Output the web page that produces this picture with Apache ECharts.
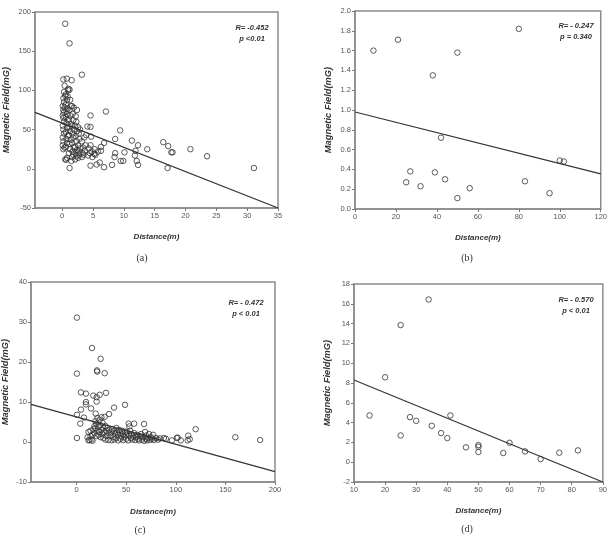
<!DOCTYPE html>
<html lang="en">
<head>
    <meta charset="UTF-8">
    <title>Magnetic Field vs Distance</title>
    <script src="https://cdn.jsdelivr.net/npm/echarts@6/dist/echarts.min.js"></script>
</head>
<body style="margin:0;background:#fff;">
<div id="main" style="width:610px;height:537px;"></div>
<script type="text/javascript">

    // (a) distance (m), magnetic field (mG)
    var ptsA = [
        [0.5,185],[1.2,160],[3.2,120],[0.2,114],[0.75,115],[1.55,113],[0.4,106],[1.0,102],[1.2,101],[0.3,98],[0.6,95],
        [7.1,73],[4.6,68],[4.1,54],[4.6,53.5],[4.7,41],[9.4,49],[8.6,38],[11.3,36],[12.3,30],[13.8,25],[16.4,34],
        [17.2,29],[17.7,21],[17.9,21],[20.8,25],[23.5,16],[31.1,1],[17.1,1],[12.3,5],[12.1,10],[11.8,17],[11.9,23],
        [10.1,21],[9.5,10],[9.9,10],[8.6,20],[8.5,15],[8.1,5],[6.8,2],[6.1,8],[5.6,5.5],[4.6,4],[6.8,33],[6.3,28],
        [6.3,23],[5.2,19],[5.3,25],[1.2,1],[0.5,12],[0.65,11.5],
        [0.1,30],[0.2,35],[0.1,40],[0.3,45],[0.2,50],[0.1,55],[0.3,60],[0.2,65],[0.1,68],[0.3,72],[0.2,75],[0.4,78],
        [0.1,80],[0.3,85],[0.2,90],[0.5,93],[0.4,27],[0.2,25],
        [0.6,28],[0.8,33],[0.7,38],[0.9,42],[0.6,47],[0.8,52],[0.7,58],[0.9,62],[0.6,66],[0.8,70],[0.7,74],[0.9,77],
        [0.6,82],[0.8,88],[0.9,92],[1.0,100],[0.8,14],
        [1.1,20],[1.3,25],[1.2,32],[1.4,37],[1.1,43],[1.3,48],[1.2,53],[1.4,57],[1.1,63],[1.3,68],[1.2,75],[1.4,80],
        [1.3,88],[1.5,10],
        [1.6,15],[1.8,18],[1.7,22],[1.9,27],[1.6,33],[1.8,40],[1.7,45],[1.9,50],[1.6,55],[1.8,62],[1.7,70],[1.9,78],[1.6,80],
        [2.1,12],[2.3,16],[2.2,20],[2.4,24],[2.1,28],[2.3,35],[2.2,42],[2.4,48],[2.1,55],[2.3,60],[2.2,67],[2.4,75],
        [2.6,14],[2.8,18],[2.7,22],[2.9,26],[2.6,30],[2.8,38],[2.7,45],[2.9,50],[2.6,53],
        [3.2,15],[3.5,18],[3.3,20],[3.7,23],[3.4,27],[3.8,30],[3.2,35],[3.6,40],[3.9,43],
        [4.2,17],[4.5,20],[4.8,22],[4.3,26],[4.6,30],[4.9,15],[5.4,18],[5.8,22]
    ];
    var lineA = [[-4.4,72],[35,-50]];

    // (b)
    var ptsB = [
        [9,1.60],[21,1.71],[50,1.58],[80,1.82],[38,1.35],[42,0.72],[25,0.27],[27,0.38],[32,0.23],
        [39,0.37],[44,0.30],[50,0.11],[56,0.21],[83,0.28],[95,0.16],[100,0.49],[102,0.48]
    ];
    var lineB = [[0,0.98],[120,0.355]];

    // (c)
    var ptsC = [
        [0.3,31.1],[0.3,17.1],[0.3,1.0],[0.3,6.8],[15.5,23.5],[24.2,20.8],[20.5,17.9],[20.8,17.6],[28.3,17.2],
        [4.4,12.4],[9.4,12.1],[16.8,11.6],[23.2,11.8],[20.2,11.2],[29.6,12.3],[20.2,10.1],[9.4,10],[9.4,9.4],
        [48.8,9.3],[37.7,8.6],[14.5,8.4],[4.4,8.1],[7.4,6.1],[3.7,4.6],[19.2,7.1],[28.3,6.3],[32.7,7.0],
        [58,4.6],[52.5,4.6],[53.2,3.9],[68,4.5],[120,3.2],[160,1.2],[185,0.5],[112.5,1.6],[114,0.7],[112,0.4],
        [101,1.0],[102,1.1],[90,0.8],[105,0.4],[96,0.4],
        [11,1.2],[12,2.5],[13,0.5],[14,2.8],[15,0.6],[16,1.8],[17,3.2],[18,4.0],[18,2.2],[19,5.2],[19,3.5],
        [20,1.5],[20,4.5],[21,2.8],[21,6.0],[22,3.8],[22,1.8],[23,5.5],[23,2.5],[24,4.2],[24,1.2],[25,3.0],
        [25,6.2],[26,2.0],[26,4.8],[27,3.5],[27,1.0],[28,2.5],[29,0.6],[29,4.0],[30,2.8],[30,1.5],[31,3.5],
        [32,0.5],[32,2.2],[33,3.0],[34,1.6],[35,2.4],[35,0.4],[36,3.2],[37,1.2],[38,2.8],[38,0.6],[39,2.0],
        [40,3.5],[40,1.0],[41,2.5],[42,0.4],[42,1.8],[43,3.0],[44,2.2],[44,0.8],[45,1.4],[46,2.8],[47,0.5],
        [47,2.0],[48,1.2],[49,2.6],[50,0.8],[50,1.8],[51,2.4],[52,0.4],[53,1.6],[54,2.8],[55,1.0],[55,2.0],
        [56,0.6],[57,1.4],[58,2.2],[59,0.5],[60,1.2],[61,1.8],[62,0.8],[63,0.4],[64,1.5],[65,2.0],[66,0.6],
        [67,1.2],[68,0.3],[69,2.5],[70,0.8],[70,1.6],[71,0.4],[72,1.0],[73,2.0],[74,0.5],[75,1.2],[76,0.8],
        [77,1.8],[78,0.5],[80,1.0],[82,0.6],[84,0.9],[88,1.0],[12,0.4],[14,1.5],[16,0.3]
    ];
    var lineC = [[-46,9.4],[200,-7.4]];

    // (d)
    var ptsD = [
        [15,4.72],[20,8.58],[25,13.85],[25,2.70],[28,4.55],[30,4.18],[34,16.43],[35,3.68],[38,2.94],[40,2.44],
        [41,4.72],[46,1.50],[50,1.73],[50,1.56],[50,1.03],[58,0.93],[60,1.96],[65,1.09],[70,0.32],[76,0.96],[82,1.19]
    ];
    var lineD = [[10,8.3],[90,-2]];

    var xTicksA = [0,5,10,15,20,25,30,35];
    var xTicksC = [0,50,100,150,200];

    var rTexts = ['R= -0.452', 'R= - 0.247', 'R= - 0.472', 'R= - 0.570'];
    var pTexts = ['p <0.01', 'p = 0.340', 'p < 0.01', 'p < 0.01'];
    var captions = ['(a)', '(b)', '(c)', '(d)'];

    var font = 'Liberation Sans';
    var frame = '#8c8c8c';

    var grids = [
        {left: 35, top: 12, width: 243, height: 196},
        {left: 355, top: 11, width: 247, height: 198},
        {left: 31, top: 282, width: 244, height: 200},
        {left: 354, top: 284, width: 250, height: 198}
    ];
    grids.forEach(function (g) {
        g.show = true;
        g.borderColor = frame;
        g.borderWidth = 1.5;
        g.backgroundColor = 'transparent';
    });

    function axis(i, isX, min, max, interval, custom, fmt) {
        var a = {
            type: 'value',
            gridIndex: i,
            min: min,
            max: max,
            splitLine: {show: false},
            axisLine: {show: true, onZero: false, lineStyle: {color: frame, width: 1.5}},
            axisTick: {show: true, length: 3, lineStyle: {color: '#777'}},
            axisLabel: {color: '#555', fontSize: 7.5, fontFamily: font, margin: 4},
            name: isX ? 'Distance(m)' : 'Magnetic Field(mG)',
            nameLocation: 'middle',
            nameGap: 25,
            nameTextStyle: {fontFamily: font, fontSize: isX ? 8 : 9.3, fontWeight: 'bold', fontStyle: 'italic', color: '#333'}
        };
        if (interval) a.interval = interval;
        if (custom) {
            a.axisLabel.customValues = custom;
            a.axisTick.customValues = custom;
        }
        if (fmt) a.axisLabel.formatter = fmt;
        return a;
    }

    var xAxes = [
        axis(0, true, -4.4, 35, null, xTicksA),
        axis(1, true, 0, 120, 20),
        axis(2, true, -46, 200, null, xTicksC),
        axis(3, true, 10, 90, 10)
    ];
    var yAxes = [
        axis(0, false, -50, 200, 50),
        axis(1, false, 0, 2, 0.2, null, function (v) { return v.toFixed(1); }),
        axis(2, false, -10, 40, 10),
        axis(3, false, -2, 18, 2)
    ];
    xAxes[0].nameGap = 25;
    xAxes[1].nameGap = 25;
    xAxes[2].nameGap = 26;
    xAxes[3].nameGap = 25;
    yAxes[0].nameGap = 24;
    yAxes[1].nameGap = 22;
    yAxes[2].nameGap = 21;
    yAxes[3].nameGap = 22;

    var allPts = [ptsA, ptsB, ptsC, ptsD];
    var allLines = [lineA, lineB, lineC, lineD];
    var series = [];
    for (var i = 0; i < 4; i++) {
        series.push({
            type: 'line',
            xAxisIndex: i, yAxisIndex: i,
            data: allLines[i],
            showSymbol: false,
            silent: true,
            lineStyle: {color: '#333', width: 1.2}
        });
        series.push({
            type: 'scatter',
            xAxisIndex: i, yAxisIndex: i,
            data: allPts[i],
            symbol: 'circle',
            symbolSize: 5.5,
            itemStyle: {color: 'rgba(255,255,255,0)', borderColor: '#333', borderWidth: 1}
        });
    }

    var annot = [
        {x: 252, y: 33}, {x: 576, y: 31}, {x: 246, y: 308}, {x: 576, y: 305}
    ];
    var capPos = [
        {x: 142, y: 258}, {x: 467, y: 258}, {x: 140, y: 530}, {x: 467, y: 529}
    ];
    var graphic = [];
    for (var k = 0; k < 4; k++) {
        graphic.push({
            type: 'text',
            style: {
                text: rTexts[k] + '\n' + pTexts[k],
                x: annot[k].x, y: annot[k].y,
                textAlign: 'center', textVerticalAlign: 'middle',
                font: 'italic bold 7.5px "Liberation Sans"',
                fill: '#333', lineHeight: 11
            }
        });
        graphic.push({
            type: 'text',
            style: {
                text: captions[k], x: capPos[k].x, y: capPos[k].y,
                textAlign: 'center', textVerticalAlign: 'middle',
                font: '10px "Liberation Serif"', fill: '#333'
            }
        });
    }

    var chart = echarts.init(document.getElementById('main'));
    chart.setOption({
        animation: false,
        grid: grids,
        xAxis: xAxes,
        yAxis: yAxes,
        series: series,
        graphic: graphic
    });
</script>
</body>
</html>
